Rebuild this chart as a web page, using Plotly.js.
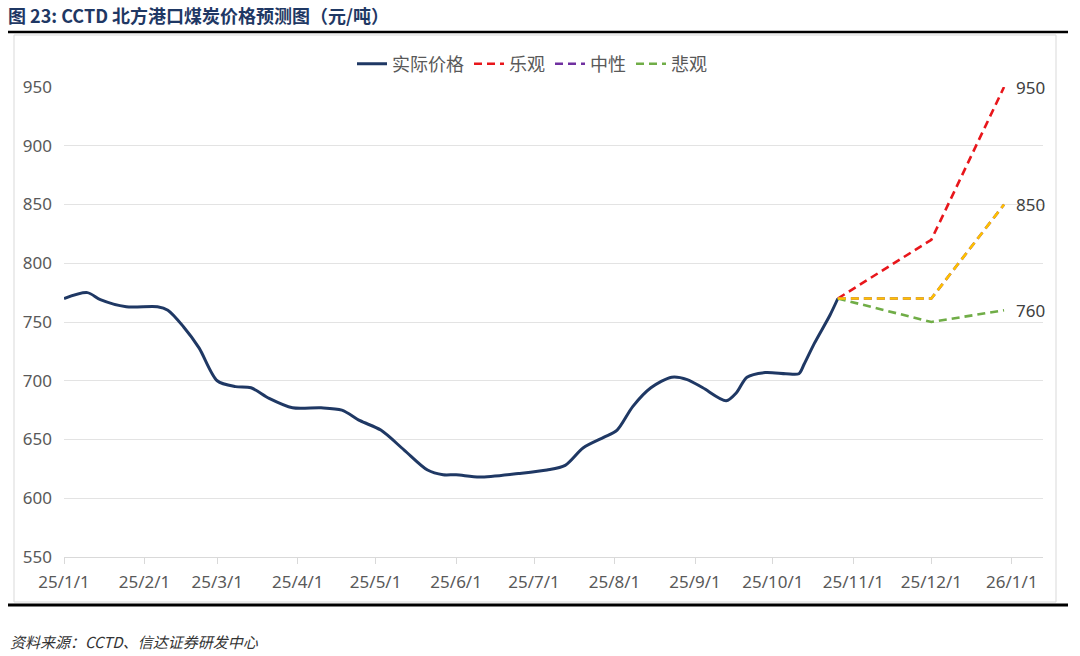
<!DOCTYPE html>
<html>
<head>
<meta charset="utf-8">
<script src="https://cdn.plot.ly/plotly-3.0.1.min.js"></script>
<style>
  html, body { margin: 0; padding: 0; background: #ffffff; }
  #chart { width: 1080px; height: 656px; }
</style>
</head>
<body>
<div id="chart"></div>
<script>
// ---- data ----
const actualDates = [
  '2025-01-01','2025-01-10','2025-01-15','2025-01-25','2025-02-06','2025-02-10',
  '2025-02-16','2025-02-22','2025-03-01','2025-03-08','2025-03-14','2025-03-21',
  '2025-03-30','2025-04-10','2025-04-18','2025-04-25','2025-05-03','2025-05-12',
  '2025-05-21','2025-05-27','2025-06-01','2025-06-10','2025-06-25','2025-07-06',
  '2025-07-13','2025-07-20','2025-07-28','2025-08-02','2025-08-08','2025-08-15',
  '2025-08-23','2025-08-29','2025-09-04','2025-09-13','2025-09-17','2025-09-21',
  '2025-09-28','2025-10-06','2025-10-11','2025-10-13','2025-10-17','2025-10-23',
  '2025-10-26'
];
const actualPrice = [
  770, 775, 769, 763, 763, 760,
  746, 728, 700, 695, 694, 685,
  677, 677, 675, 666, 658, 641,
  624, 620, 620, 618, 621, 624,
  628, 643, 652, 658, 678, 694,
  703, 701, 694, 683, 690, 703,
  707, 706, 706, 714, 732, 756,
  770
];
const forecastDates = ['2025-10-26', '2025-12-01', '2025-12-29'];
const optimistic = [770, 820, 950];
const neutral = [770, 770, 850];
const pessimistic = [770, 750, 760];

const seriesNames = ['实际价格', '乐观', '中性', '悲观'];

const tickDates = [
  '2025-01-01','2025-02-01','2025-03-01','2025-04-01','2025-05-01','2025-06-01',
  '2025-07-01','2025-08-01','2025-09-01','2025-10-01','2025-11-01','2025-12-01','2026-01-01'
];
const tickLabels = [
  '25/1/1','25/2/1','25/3/1','25/4/1','25/5/1','25/6/1',
  '25/7/1','25/8/1','25/9/1','25/10/1','25/11/1','25/12/1','26/1/1'
];

const titleText = '图 23: CCTD 北方港口煤炭价格预测图（元/吨）';
const sourceText = '资料来源：CCTD、信达证券研发中心';

// ---- styles ----
const W = 1080, H = 656;
const L = 64, R = 37, T = 87, B = 99;
const pw = W - L - R, ph = H - T - B;
const px = x => (x - L) / pw;
const py = y => (H - B - y) / ph;

const dashPat = '8px,5px';
const cjk = '"Noto Sans CJK SC", "Noto Sans", sans-serif';
const num = '"Noto Sans", "Open Sans", sans-serif';

const traces = [
  {
    x: actualDates, y: actualPrice, name: seriesNames[0], type: 'scatter', mode: 'lines',
    line: { color: '#1f3864', width: 3, shape: 'spline', smoothing: 0.8 },
    hoverinfo: 'skip'
  },
  {
    x: forecastDates, y: optimistic, name: seriesNames[1], type: 'scatter', mode: 'lines',
    line: { color: '#e8161b', width: 2.6, dash: dashPat }
  },
  {
    x: forecastDates, y: neutral, name: seriesNames[2], type: 'scatter', mode: 'lines',
    line: { color: '#7030a0', width: 2.6, dash: dashPat }
  },
  {
    x: forecastDates, y: pessimistic, name: seriesNames[3], type: 'scatter', mode: 'lines',
    line: { color: '#70ad47', width: 2.6, dash: dashPat }
  },
  {
    x: forecastDates, y: neutral, name: seriesNames[2], type: 'scatter', mode: 'lines',
    showlegend: false,
    line: { color: '#ffc000', width: 2.6, dash: dashPat }
  }
];

const endLabels = [
  { v: optimistic[optimistic.length - 1] },
  { v: neutral[neutral.length - 1] },
  { v: pessimistic[pessimistic.length - 1] }
].map(o => ({
  x: forecastDates[forecastDates.length - 1], y: o.v, xref: 'x', yref: 'y',
  text: String(o.v), showarrow: false, xanchor: 'left', yanchor: 'middle', xshift: 10,
  font: { family: num, size: 17, color: '#404040' }
}));

const layout = {
  width: W, height: H,
  margin: { l: L, r: R, t: T, b: B, pad: 0 },
  paper_bgcolor: '#ffffff', plot_bgcolor: '#ffffff',
  showlegend: true,
  title: {
    text: '<b>' + titleText + '</b>',
    xref: 'container', yref: 'container',
    x: 8 / W, xanchor: 'left', y: 1 - 17 / H, yanchor: 'middle',
    font: { family: cjk, size: 18, color: '#1f3864' }
  },
  legend: {
    orientation: 'h', x: px(532), xanchor: 'center', y: py(64), yanchor: 'middle',
    font: { family: cjk, size: 18, color: '#595959' },
    bgcolor: 'rgba(0,0,0,0)', itemwidth: 30, tracegroupgap: 0
  },
  xaxis: {
    type: 'date', range: ['2025-01-01', '2026-01-13'],
    tickvals: tickDates, ticktext: tickLabels,
    showgrid: false, zeroline: false,
    showline: true, linecolor: '#d9d9d9', linewidth: 1,
    ticks: 'outside', ticklen: 6, tickcolor: '#d9d9d9', tickwidth: 1,
    ticklabelstandoff: 4,
    tickfont: { family: num, size: 17, color: '#595959' }
  },
  yaxis: {
    range: [550, 950], dtick: 50, tick0: 550,
    showgrid: true, gridcolor: '#e3e3e3', gridwidth: 1,
    zeroline: false, showline: false, ticks: '',
    ticklabelstandoff: 11,
    tickfont: { family: num, size: 17, color: '#595959' }
  },
  shapes: [
    { type: 'rect', xref: 'paper', yref: 'paper', x0: px(14), x1: px(1056), y0: py(602), y1: py(35),
      line: { color: '#d9d9d9', width: 1 }, fillcolor: 'rgba(0,0,0,0)', layer: 'below' },
    { type: 'line', xref: 'paper', yref: 'paper', x0: px(8), x1: px(1068), y0: py(32), y1: py(32),
      line: { color: '#000000', width: 2.5 } },
    { type: 'line', xref: 'paper', yref: 'paper', x0: px(8), x1: px(1068), y0: py(605), y1: py(605),
      line: { color: '#000000', width: 3 } }
  ],
  annotations: endLabels.concat([
    { xref: 'paper', yref: 'paper', x: px(8), y: py(641), xanchor: 'left', yanchor: 'middle',
      text: '<i>' + sourceText + '</i>', showarrow: false,
      font: { family: cjk, size: 15, color: '#333333' } }
  ])
};

Plotly.newPlot('chart', traces, layout, { displayModeBar: false, staticPlot: true });
</script>
</body>
</html>
